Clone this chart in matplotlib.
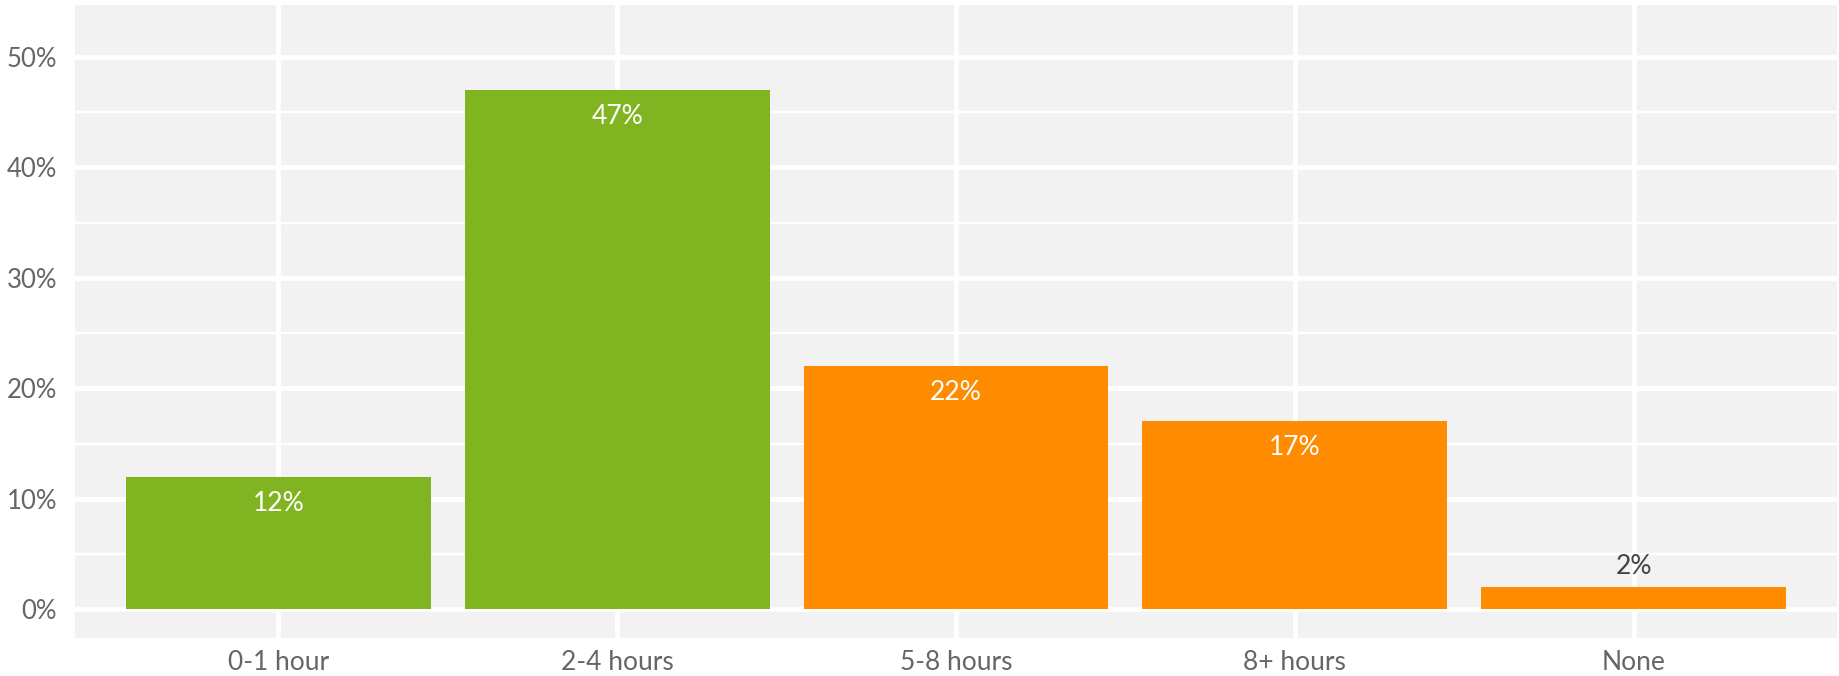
import matplotlib
matplotlib.use("Agg")
import matplotlib.pyplot as plt
from matplotlib.ticker import MultipleLocator, FuncFormatter

plt.rcParams['font.family'] = ['Lato', 'DejaVu Sans']

categories = ["0-1 hour", "2-4 hours", "5-8 hours", "8+ hours", "None"]
values = [12, 47, 22, 17, 2]
groups = ["green", "green", "orange", "orange", "orange"]
labels = ["12%", "47%", "22%", "17%", "2%"]

colors = {"green": "#80b521", "orange": "#ff8c00"}

fig = plt.figure(figsize=(18.39, 6.76), dpi=100)
ax = fig.add_axes([75/1839, 38/676, (1837-75)/1839, (638-5)/676])
ax.set_facecolor("#f2f2f2")

x = list(range(len(categories)))
ax.bar(x, values, width=0.9, color=[colors[g] for g in groups], zorder=3)

for xi, v, lab in zip(x, values, labels):
    if v > 5:
        ax.text(xi, v - 2.4, lab, ha="center", va="center", color="white",
                fontsize=19, zorder=4)
    else:
        ax.text(xi, v + 1.9, lab, ha="center", va="center", color="#444444",
                fontsize=19, zorder=4)

ax.set_xlim(-0.6, 4.6)
ax.set_ylim(-2.6, 54.7)
ax.set_xticks(x)
ax.set_xticklabels(categories)
ax.yaxis.set_major_locator(MultipleLocator(10))
ax.yaxis.set_minor_locator(MultipleLocator(5))
ax.yaxis.set_major_formatter(FuncFormatter(lambda v, p: f"{int(round(v))}%"))

ax.grid(which="major", color="white", linewidth=3.4, zorder=1)
ax.grid(which="minor", axis="y", color="white", linewidth=1.7, zorder=1)
ax.set_axisbelow(True)

for s in ax.spines.values():
    s.set_visible(False)
ax.tick_params(which="both", length=0)
ax.tick_params(axis="y", pad=13, labelsize=18.5, labelcolor="#666666")
ax.tick_params(axis="x", pad=9, labelsize=19, labelcolor="#666666")

fig.savefig("out.png", dpi=100)
